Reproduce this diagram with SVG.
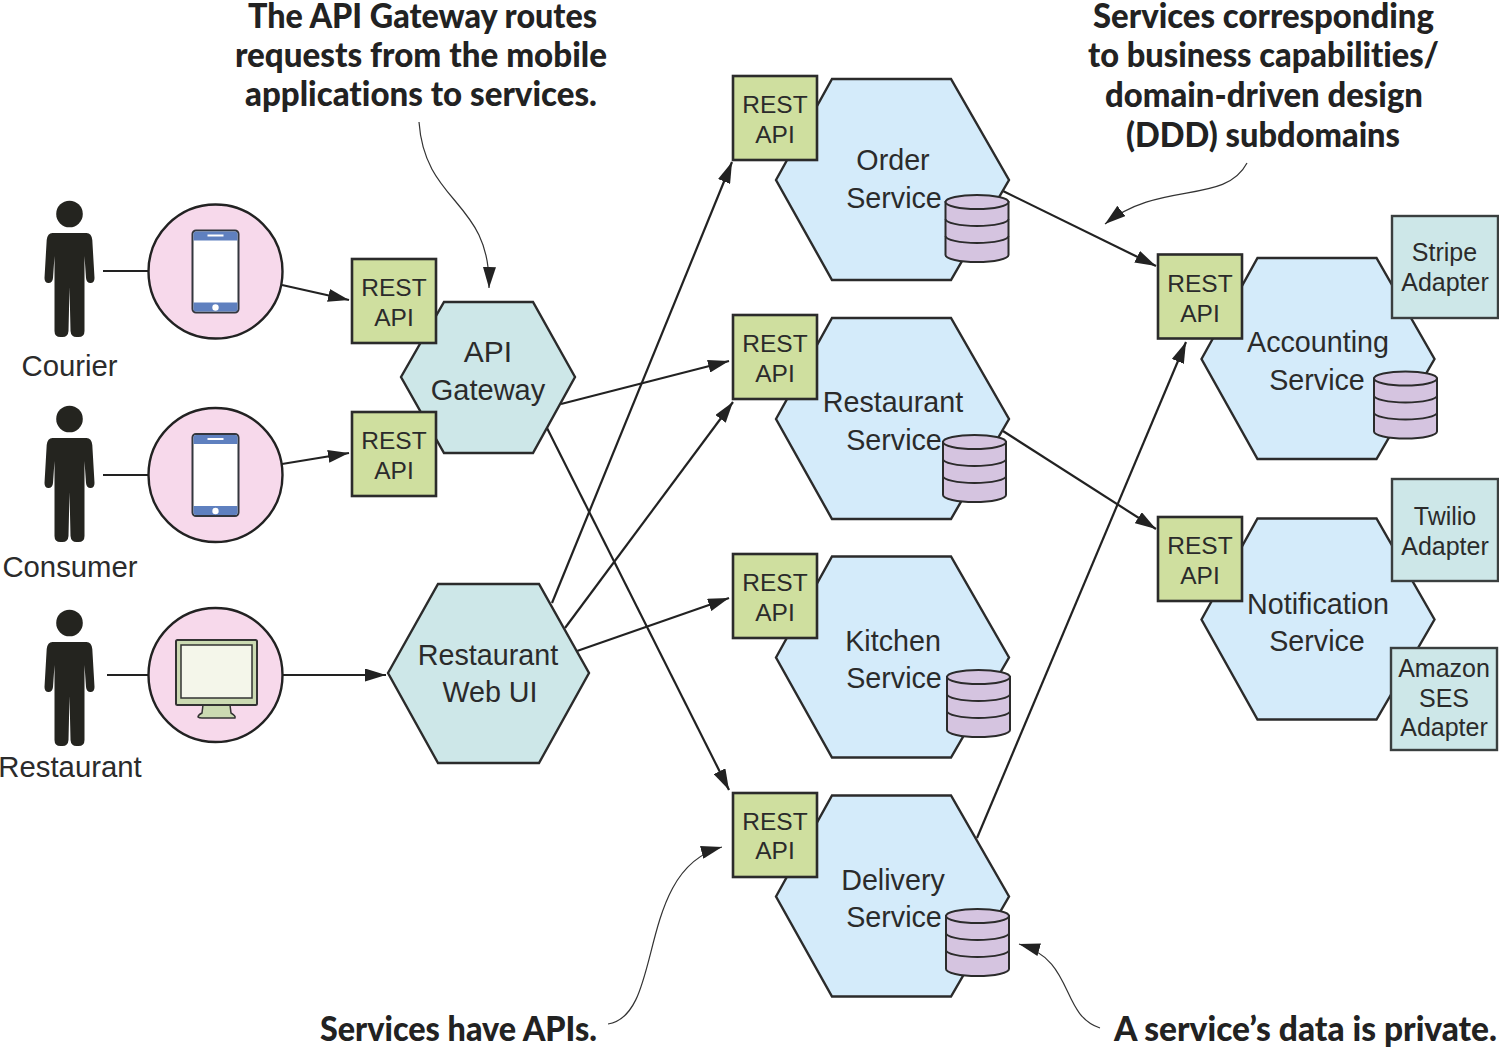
<svg xmlns="http://www.w3.org/2000/svg" xmlns:xlink="http://www.w3.org/1999/xlink" width="1499" height="1050" viewBox="0 0 1499 1050">
<style>
text{font-family:"Liberation Sans",Arial,sans-serif;fill:#2b2b2b;text-anchor:middle}
.svc{font-size:28.700px}.rest{font-size:24.500px}.ad{font-size:25px}.actor{font-size:29.300px}
.note{font-family:Lato,"Open Sans",sans-serif;font-weight:900;font-size:35px;fill:#222;text-anchor:start;font-variant-ligatures:none}
.hex{fill:#d4ebfa;stroke:#2b2b2b;stroke-width:2.4;stroke-linejoin:miter}
.hexg{fill:#cde7e8;stroke:#2b2b2b;stroke-width:2.4}
.rbox{fill:#cfdf9f;stroke:#2b2b2b;stroke-width:2.600}
.abox{fill:#cde7e8;stroke:#3a3f3f;stroke-width:2.400}
.circ{fill:#f7d9eb;stroke:#222;stroke-width:2.400}
.c{fill:none;stroke:#222;stroke-width:2.200}
.a{fill:none;stroke:#222;stroke-width:2.200;marker-end:url(#ah)}
.n{fill:none;stroke:#333;stroke-width:1.200;marker-end:url(#ah)}
.db{fill:#d5c4e0;stroke:#2b2b2b;stroke-width:2}
</style>
<defs>
<marker id="ah" markerUnits="userSpaceOnUse" markerWidth="23" markerHeight="13" refX="21" refY="6.500" orient="auto">
<path d="M0 0L21 6.500L0 13Z" fill="#222"/>
</marker>
<g id="person">
<circle cx="0" cy="0" r="13.300" fill="#24241f"/>
<path d="M-17 19H17Q22 19 22.800 26L25 64Q25 69 21 69Q17 69 16.500 64L15 42V117Q15 123 9 123H7Q1.500 123 1 117L0 73L-1 117Q-1.500 123 -7 123H-9Q-15 123 -15 117V42L-16.500 64Q-17 69 -21 69Q-25 69 -25 64L-22.800 26Q-22 19 -17 19Z" fill="#24241f"/>
</g>
<g id="phone">
<rect x="-23" y="-41" width="46" height="82" rx="3.500" fill="#fff" stroke="#33363d" stroke-width="2"/>
<path d="M-22 -31V-37.500Q-22 -40 -19.500 -40H19.500Q22 -40 22 -37.500V-31ZM-22 31H22V37.500Q22 40 19.500 40H-19.500Q-22 40 -22 37.500Z" fill="#5f80bf"/>
<rect x="-8" y="-37" width="16" height="2" fill="#fff"/>
<circle cx="0" cy="36" r="3.200" fill="#fff"/>
</g>
<g id="db">
<path class="db" d="M0 7V60A31.500 7 0 0 0 63 60V7Z"/>
<path class="c" style="stroke:#2b2b2b;stroke-width:1.800" d="M0 24A31.500 7 0 0 0 63 24M0 41A31.500 7 0 0 0 63 41"/>
<ellipse class="db" cx="31.500" cy="7" rx="31.500" ry="7"/>
</g>
<g id="rest">
<rect class="rbox" x="0" y="0" width="84" height="84"/>
</g>
<polygon id="hx" points="0,101 56,0 175,0 233,101 175,201 56,201"/>
</defs>

<g id="connectors">
<path class="c" d="M103 271H148M103 475H148M107 675H148"/>
<path class="a" d="M282 285L349 300"/>
<path class="a" d="M282 464L349 453"/>
<path class="a" d="M283 675H386"/>
<path class="a" d="M561 404L729 361"/>
<path class="a" d="M547 428L729 790"/>
<path class="a" d="M552 603L732 162"/>
<path class="a" d="M565 628L733 402"/>
<path class="a" d="M577 651L729 598"/>
<path class="a" d="M1003 191L1156 266"/>
<path class="a" d="M1003 431L1156 529"/>
<path class="a" d="M977 838L1186 342"/>
<path class="n" d="M419 122C425 205 491 200 489 288"/>
<path class="n" d="M1247 163C1225 205 1160 180 1105 224"/>
<path class="n" d="M608 1024C665 1015 635 870 722 847"/>
<path class="n" d="M1100 1028C1060 1015 1075 960 1019 944"/>
</g>

<g id="courier"><use href="#person" x="69.500" y="214"/><text class="actor" x="69.500" y="376">Courier</text></g>
<g id="consumer"><use href="#person" x="69.500" y="419"/><text class="actor" x="70" y="577">Consumer</text></g>
<g id="restaurant"><use href="#person" x="69.500" y="623"/><text class="actor" x="70" y="777">Restaurant</text></g>

<g id="courier-device"><circle class="circ" cx="215.500" cy="271.500" r="67"/><use href="#phone" x="215.500" y="271.500"/></g>
<g id="consumer-device"><circle class="circ" cx="215.500" cy="475" r="67"/><use href="#phone" x="215.500" y="475"/></g>
<g id="restaurant-device">
<circle class="circ" cx="215.500" cy="675" r="67"/>
<path d="M203 705H230L231 713Q236 716 235 718Q234 718 231 718H202Q199 718 198 717Q198 715 202 713Z" fill="#cbdab2" stroke="#333" stroke-width="1.500"/>
<rect x="176" y="640" width="81" height="65" rx="1.500" fill="#cbdab2" stroke="#333" stroke-width="2"/>
<rect x="181" y="645" width="71" height="53" fill="#f4f6ea" stroke="#333" stroke-width="1.500"/>
</g>

<g id="api-gateway">
<polygon class="hexg" points="401,377 444,302 533,302 575,377 533,453 444,453"/>
<use href="#rest" x="352" y="259"/><text class="rest" x="394" y="296">REST</text><text class="rest" x="394" y="326">API</text>
<use href="#rest" x="352" y="412"/><text class="rest" x="394" y="449">REST</text><text class="rest" x="394" y="479">API</text>
<text x="488" y="362" style="font-size:30px">API</text><text x="488" y="400" style="font-size:29px">Gateway</text>
</g>
<g id="web-ui">
<polygon class="hexg" points="388,673 438,584 539,584 589,673 539,763 438,763"/>
<text class="svc" x="488" y="665">Restaurant</text><text class="svc" x="490" y="702">Web UI</text>
</g>

<g id="order-service">
<use href="#hx" class="hex" x="776" y="79"/>
<text class="svc" x="893" y="170">Order</text><text class="svc" x="894" y="208">Service</text>
<use href="#db" x="945.500" y="195"/>
<use href="#rest" x="733" y="76"/><text class="rest" x="775" y="113">REST</text><text class="rest" x="775" y="143">API</text>
</g>
<g id="restaurant-service">
<use href="#hx" class="hex" x="776" y="318"/>
<text class="svc" x="893" y="412">Restaurant</text><text class="svc" x="894" y="450">Service</text>
<use href="#db" x="943" y="435"/>
<use href="#rest" x="733" y="315"/><text class="rest" x="775" y="352">REST</text><text class="rest" x="775" y="382">API</text>
</g>
<g id="kitchen-service">
<use href="#hx" class="hex" x="776" y="556.500"/>
<text class="svc" x="893" y="651">Kitchen</text><text class="svc" x="894" y="688">Service</text>
<use href="#db" x="947" y="670"/>
<use href="#rest" x="733" y="554"/><text class="rest" x="775" y="591">REST</text><text class="rest" x="775" y="621">API</text>
</g>
<g id="delivery-service">
<use href="#hx" class="hex" x="776" y="795.500"/>
<text class="svc" x="893" y="890">Delivery</text><text class="svc" x="894" y="927">Service</text>
<use href="#db" x="946" y="909"/>
<use href="#rest" x="733" y="793"/><text class="rest" x="775" y="830">REST</text><text class="rest" x="775" y="859">API</text>
</g>
<g id="accounting-service">
<use href="#hx" class="hex" x="1201.500" y="258"/>
<text class="svc" x="1318" y="352">Accounting</text><text class="svc" x="1317" y="390">Service</text>
<use href="#db" x="1374" y="371.500"/>
<use href="#rest" x="1158" y="254.500"/><text class="rest" x="1200" y="292">REST</text><text class="rest" x="1200" y="322">API</text>
<rect class="abox" x="1392" y="216" width="106" height="102"/>
<text class="ad" x="1444.500" y="261">Stripe</text><text class="ad" x="1445" y="291">Adapter</text>
</g>
<g id="notification-service">
<use href="#hx" class="hex" x="1201.500" y="518.500"/>
<text class="svc" x="1318" y="614">Notification</text><text class="svc" x="1317" y="651">Service</text>
<use href="#rest" x="1158" y="517"/><text class="rest" x="1200" y="554">REST</text><text class="rest" x="1200" y="584">API</text>
<rect class="abox" x="1392" y="479" width="106" height="102"/>
<text class="ad" x="1445" y="525">Twilio</text><text class="ad" x="1445" y="555">Adapter</text>
<rect class="abox" x="1391" y="648" width="106" height="102"/>
<text class="ad" x="1444" y="677">Amazon</text><text class="ad" x="1444" y="707">SES</text><text class="ad" x="1444" y="736">Adapter</text>
</g>

<g id="annotations">
<text class="note" x="248" y="28" textLength="349" lengthAdjust="spacingAndGlyphs">The API Gateway routes</text>
<text class="note" x="235" y="67" textLength="372" lengthAdjust="spacingAndGlyphs">requests from the mobile</text>
<text class="note" x="245" y="106" textLength="352" lengthAdjust="spacingAndGlyphs">applications to services.</text>
<text class="note" x="1093" y="28" textLength="341" lengthAdjust="spacingAndGlyphs">Services corresponding</text>
<text class="note" x="1088" y="67" textLength="351" lengthAdjust="spacingAndGlyphs">to business capabilities/</text>
<text class="note" x="1105" y="107" textLength="318" lengthAdjust="spacingAndGlyphs">domain-driven design</text>
<text class="note" x="1126" y="147" textLength="274" lengthAdjust="spacingAndGlyphs">(DDD) subdomains</text>
<text class="note" x="320" y="1041" textLength="277" lengthAdjust="spacingAndGlyphs">Services have APIs.</text>
<text class="note" x="1114" y="1041" textLength="383" lengthAdjust="spacingAndGlyphs">A service’s data is private.</text>
</g>
</svg>
